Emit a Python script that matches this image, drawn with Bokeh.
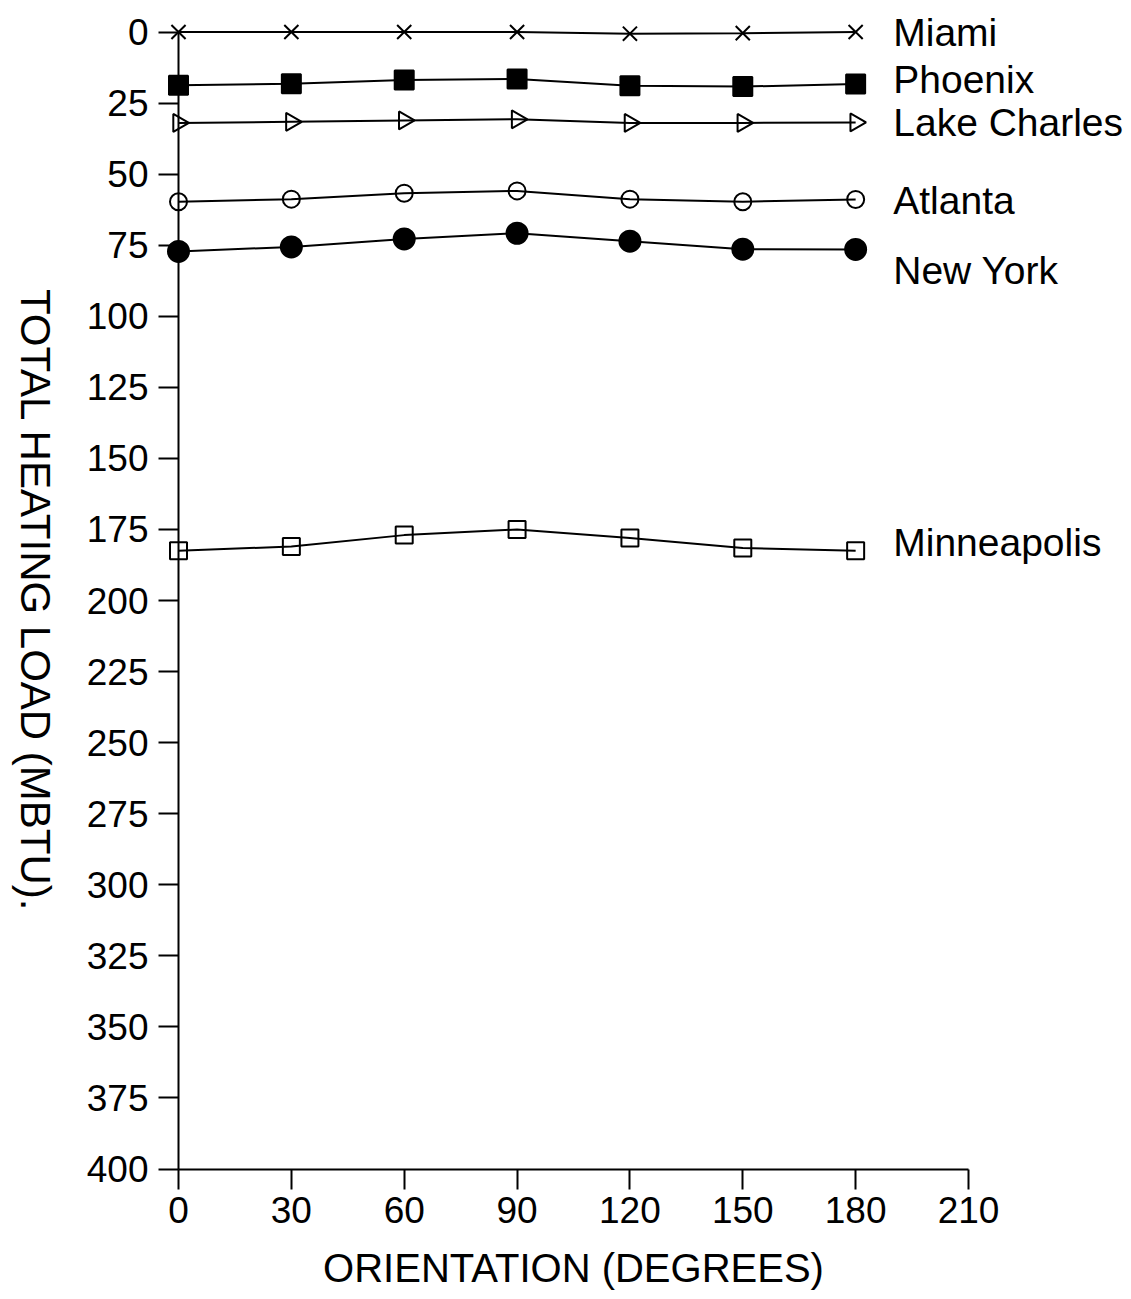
import numpy as np
from bokeh.plotting import figure
from bokeh.models import Range1d, Label, FixedTicker
from bokeh.embed import file_html
from bokeh.resources import INLINE

orientation = [0, 30, 60, 90, 120, 150, 180]
cities = ["Miami", "Phoenix", "Lake Charles", "Atlanta", "New York", "Minneapolis"]
miami = [0, 0, 0, 0, 0.6, 0.4, 0]
phoenix = [18.7, 18.2, 16.9, 16.5, 18.9, 19.2, 18.3]
lake_charles = [32.0, 31.6, 31.1, 30.7, 32.0, 32.0, 31.8]
atlanta = [59.7, 58.8, 56.7, 55.9, 58.8, 59.7, 58.9]
new_york = [77.2, 75.6, 72.8, 70.8, 73.6, 76.4, 76.5]
minneapolis = [182.5, 181.0, 177.0, 175.0, 178.0, 181.5, 182.5]
x_ticks = [0, 30, 60, 90, 120, 150, 180, 210]
y_ticks = list(range(0, 401, 25))

series = [miami, phoenix, lake_charles, atlanta, new_york, minneapolis]
# marker styles: (marker, size, filled, angle)
styles = [("x", 20, False, 0.0), ("square", 19, True, 0.0), ("triangle", 18, False, -np.pi / 2),
          ("circle", 17, False, 0.0), ("circle", 21, True, 0.0), ("square", 17, False, 0.0)]
label_offsets = [0, -1.6, 0, 0.4, 7.5, -2.9]

FONT = "Liberation Sans"

W, H = 1130, 1298
X0_PX, PX_PER_DEG = 178.0, 790.0 / 210.0
Y0_PX, PX_PER_UNIT = 31.5, 1137.0 / 400.0

p = figure(width=W, height=H,
           x_range=Range1d(-X0_PX / PX_PER_DEG, (W - X0_PX) / PX_PER_DEG),
           y_range=Range1d((H - Y0_PX) / PX_PER_UNIT, -Y0_PX / PX_PER_UNIT),
           output_backend="svg", toolbar_location=None,
           min_border_left=0, min_border_right=0, min_border_top=0, min_border_bottom=0)
p.outline_line_color = None
p.grid.visible = False
p.background_fill_color = "white"

for ax, ticks, bounds in ((p.xaxis, x_ticks, (0, 210)), (p.yaxis, y_ticks, (0, 400))):
    ax.ticker = FixedTicker(ticks=ticks)
    ax.bounds = bounds
    ax.major_tick_out = 20
    ax.major_tick_in = 0
    ax.minor_tick_line_color = None
    ax.axis_line_width = 2
    ax.axis_line_color = "black"
    ax.major_tick_line_width = 2
    ax.major_tick_line_color = "black"
    ax.major_label_text_font = FONT
    ax.major_label_text_font_size = "37px"
    ax.major_label_text_color = "black"
p.yaxis.major_label_standoff = 10
p.xaxis.major_label_standoff = 8
p.yaxis.fixed_location = 0
p.xaxis.fixed_location = 400

for vals, (mk, sz, filled, ang), name, off in zip(series, styles, cities, label_offsets):
    p.line(orientation, vals, line_color="black", line_width=2)
    p.scatter(orientation, vals, marker=mk, size=sz, angle=ang, line_color="black", line_width=2,
              fill_color="black" if filled else None)
    p.add_layout(Label(x=190, y=vals[-1] + off, text=name, text_font=FONT, text_font_size="39px",
                       text_align="left", text_baseline="middle", text_color="black"))

p.add_layout(Label(x=105, y=435, text="ORIENTATION (DEGREES)", text_font=FONT,
                   text_font_size="40px", text_align="center", text_baseline="middle", text_color="black"))
p.add_layout(Label(x=-38, y=200, text="TOTAL HEATING LOAD (MBTU).", text_font=FONT,
                   text_font_size="42px", text_align="center", text_baseline="middle",
                   angle=-np.pi / 2, text_color="black"))

open("out.html", "w").write(file_html(p, INLINE))
